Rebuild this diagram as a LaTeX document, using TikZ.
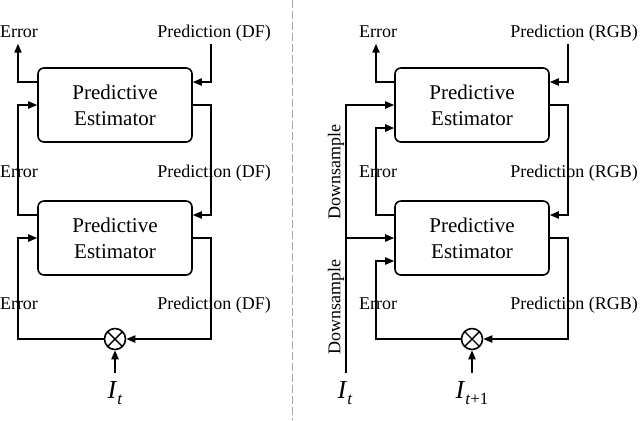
\documentclass[tikz,border=0pt]{standalone}
\usepackage{fontspec}
\setmainfont{Liberation Serif}
\usetikzlibrary{arrows.meta}
\tikzset{
    pebox/.style={draw, rounded corners=3pt, line width=0.8pt, minimum width=77pt, minimum height=37pt,
        align=center, inner sep=0pt, font=\fontsize{10.5}{13}\selectfont},
    lbl/.style={inner sep=2pt, text height=6.3pt, text depth=1pt, font=\fontsize{9}{10}\selectfont},
    arr/.style={line width=0.8pt, -{Triangle[length=4.5pt,width=3.6pt]}},
    mult/.style={draw, circle, line width=0.8pt, minimum size=10.5pt, inner sep=0pt,
        path picture={\draw[line width=0.7pt] (path picture bounding box.north east) -- (path picture bounding box.south west)
            (path picture bounding box.north west) -- (path picture bounding box.south east);}},
    inp/.style={inner sep=4pt, font=\fontsize{13}{15}\selectfont}
}
\newcommand{\imsub}[1]{\textit{I}\raisebox{-3pt}{\fontsize{8.5}{10}\selectfont#1}}
\begin{document}
\begin{tikzpicture}[x=0.5pt,y=-0.5pt]%Dos estimadores apilados, DF y RGB
        \useasboundingbox (0,0) rectangle (640,420);
        \draw[gray!70, line width=0.5pt, dash pattern=on 4pt off 1.5pt] (292,0) -- (292,420);

        \coordinate (RA) at (18,0);
        \coordinate (RB) at (211,0);
        \coordinate (RC) at (346,0);
        \coordinate (RD) at (376,0);
        \coordinate (RE) at (568,0);

        % izquierda
        \node[pebox] (P1) at (115,105) {Predictive\\Estimator};
        \node[pebox] (P2) at (115,238) {Predictive\\Estimator};
        \node[mult] (M1) at (115,339) {};
        \node[inp] (I1) at (115,393) {\imsub{\textit{t}}};
        \node[lbl] (E1) at (19,32) {Error};
        \node[lbl] (D1) at (214,32) {Prediction (DF)};
        \node[lbl] (E2) at (19,172) {Error};
        \node[lbl] (D2) at (214,172) {Prediction (DF)};
        \node[lbl] (E3) at (19,304) {Error};
        \node[lbl] (D3) at (214,304) {Prediction (DF)};

        \draw[arr] ([yshift=11.5pt]P1.west) -| (RA |- E1.south);
        \draw[arr] (RB |- D1.south) |- ([yshift=11.5pt]P1.east);
        \draw[arr] ([yshift=11.5pt]P2.west) -| (RA |- E2) |- (P1.west);
        \draw[arr] (P1.east) -| (RB |- D2) |- ([yshift=11.5pt]P2.east);
        \draw[arr] (M1.west) -| (RA |- E3) |- (P2.west);
        \draw[arr] (P2.east) -| (RB |- D3) |- (M1.east);
        \draw[arr] (I1) -- (M1);

        % derecha
        \node[pebox] (P3) at (472,105) {Predictive\\Estimator};
        \node[pebox] (P4) at (472,238) {Predictive\\Estimator};
        \node[mult] (M2) at (472,339) {};
        \node[inp] (I2) at (345,393) {\imsub{\textit{t}}};
        \node[inp] (I3) at (472,393) {\imsub{\textit{t}+1}};
        \node[lbl] (E4) at (378,32) {Error};
        \node[lbl] (D4) at (574,32) {Prediction (RGB)};
        \node[lbl] (E5) at (378,172) {Error};
        \node[lbl] (D5) at (574,172) {Prediction (RGB)};
        \node[lbl] (E6) at (378,304) {Error};
        \node[lbl] (D6) at (574,304) {Prediction (RGB)};
        \node[lbl, rotate=90] (S1) at (335,172) {Downsample};
        \node[lbl, rotate=90] (S2) at (335,307) {Downsample};

        \draw[arr] ([yshift=11.5pt]P3.west) -| (RD |- E4.south);
        \draw[arr] (RE |- D4.south) |- ([yshift=11.5pt]P3.east);
        \draw[arr] ([yshift=11.5pt]P4.west) -| (RD |- E5) |- ([yshift=-11.5pt]P3.west);
        \draw[arr] (P3.east) -| (RE |- D5) |- ([yshift=11.5pt]P4.east);
        \draw[arr] (M2.west) -| (RD |- E6) |- ([yshift=-11.5pt]P4.west);
        \draw[arr] (P4.east) -| (RE |- D6) |- (M2.east);
        \draw[arr] (I3) -- (M2);
        \draw[arr] (RC |- I2.north) |- (P3.west);
        \draw[arr] (RC |- P4.west) -- (P4.west);
    \end{tikzpicture}
\end{document}
